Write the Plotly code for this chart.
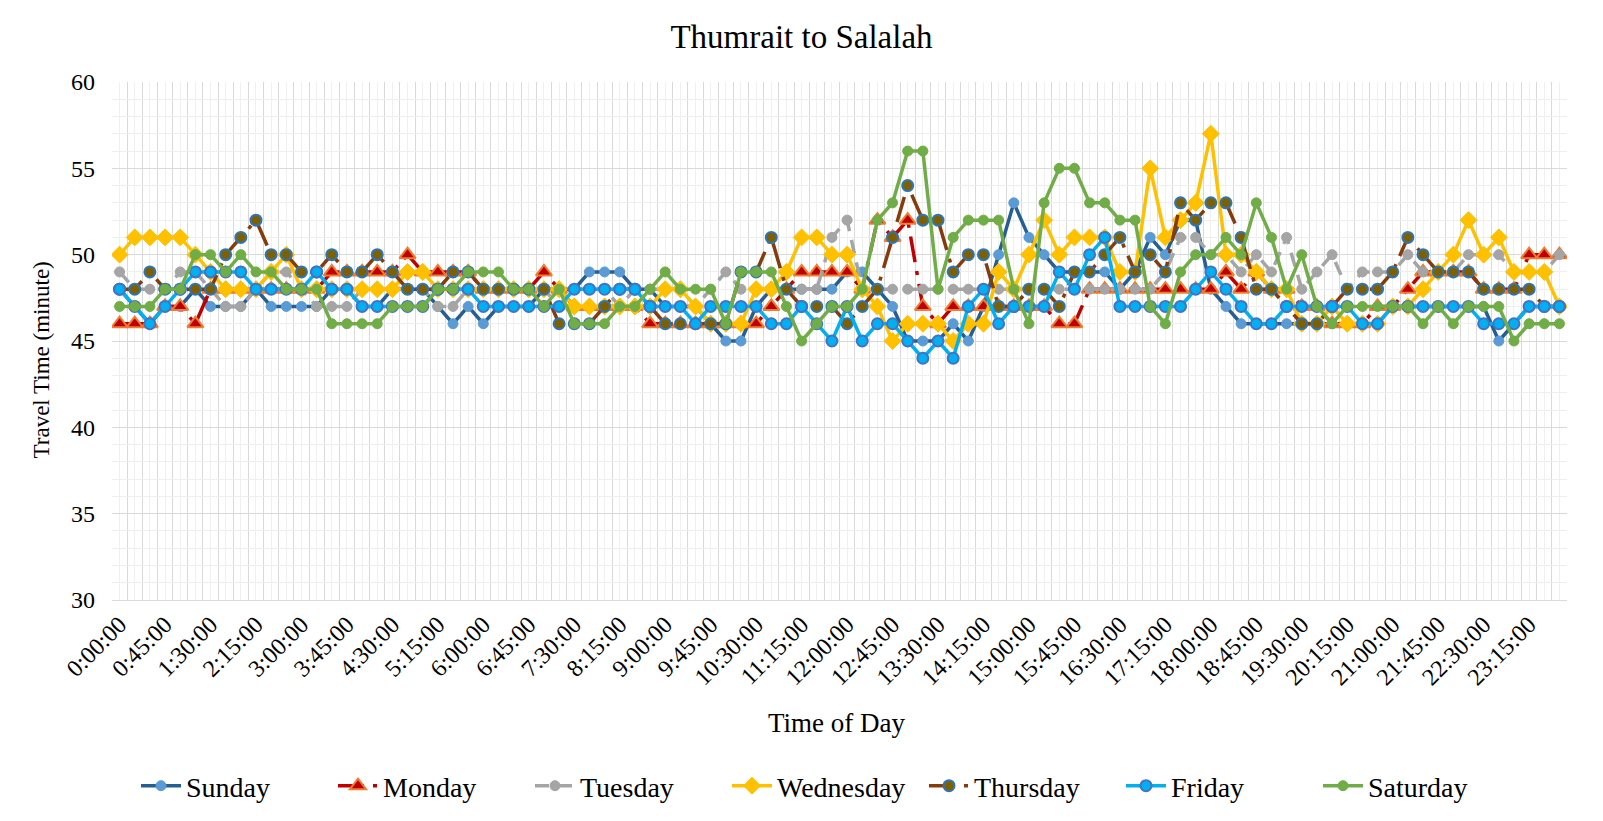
import plotly.graph_objects as go

times = [f"{h}:{m:02d}:00" for h in range(24) for m in (0, 15, 30, 45)]

sunday = [48,47,46,47,47,48,47,47,47,48,47,47,
          47,47,48,48,47,47,48,48,48,47,46,47,
          46,47,47,47,48,48,48,49,49,49,48,48,
          47,47,47,46,45,45,47,48,48,48,48,48,
          49,49,48,47,45,45,45,46,45,47,50,53,
          51,50,49,49,49,49,48,49,51,50,52,52,
          48,47,46,46,46,46,46,46,46,46,46,46,
          47,47,47,47,47,47,47,45,46,47,47,47]
monday = [46,46,46,47,47,46,48,48,48,48,48,48,
          48,48,49,49,49,49,49,50,49,49,49,49,
          48,48,48,48,49,48,47,47,47,47,47,46,
          46,46,46,46,46,46,46,47,48,49,49,49,
          49,48,52,51,52,47,46,47,47,47,47,47,
          47,47,46,46,48,48,48,48,48,48,48,48,
          48,49,48,49,48,48,47,47,46,46,46,47,
          47,48,49,49,49,49,48,48,48,50,50,50]
tuesday = [49,48,48,48,49,49,48,47,47,48,49,49,
           48,47,47,47,48,48,48,48,48,47,47,48,
           48,48,48,48,48,47,48,48,48,47,48,48,
           48,48,47,48,49,48,48,48,48,48,48,51,
           52,48,48,48,48,48,48,48,48,48,48,48,
           48,48,48,48,48,48,48,48,48,49,51,51,
           50,50,49,50,49,51,48,49,50,48,49,49,
           49,50,49,49,49,50,50,50,49,49,49,50]
wednesday = [50,51,51,51,51,50,49,48,48,48,49,50,
             48,48,48,48,48,48,48,49,49,48,48,48,
             48,48,48,48,48,48,47,47,47,47,47,47,
             48,48,47,46,46,46,48,48,49,51,51,50,
             50,48,47,45,46,46,46,45,46,46,49,48,
             50,52,50,51,51,51,49,49,55,51,52,53,
             57,50,50,49,48,48,46,46,47,46,46,46,
             47,47,48,49,50,52,50,51,49,49,49,47]
thursday = [48,48,49,48,48,48,48,50,51,52,50,50,
            49,49,50,49,49,50,49,48,48,48,49,49,
            48,48,48,48,48,46,46,46,47,48,48,47,
            46,46,46,46,46,49,49,51,48,47,47,47,
            46,47,48,51,54,52,52,49,50,50,47,47,
            48,48,47,49,49,50,51,49,50,49,53,52,
            53,53,51,48,48,47,46,46,47,48,48,48,
            49,51,50,49,49,49,48,48,48,48,47,47]
friday = [48,47,46,47,48,49,49,49,49,48,48,48,
          48,49,48,48,47,47,47,47,47,48,48,48,
          47,47,47,47,47,47,48,48,48,48,48,47,
          47,47,46,47,47,47,47,46,46,47,46,45,
          47,45,46,46,45,44,45,44,47,48,46,47,
          47,47,49,48,50,51,47,47,47,47,47,48,
          49,48,47,46,46,47,47,47,47,47,46,46,
          47,47,47,47,47,47,46,46,46,47,47,47]
saturday = [47,47,47,48,48,50,50,49,50,49,49,48,
            48,48,46,46,46,46,47,47,47,48,48,49,
            49,49,48,48,47,48,46,46,46,47,47,48,
            49,48,48,48,46,49,49,49,47,45,46,47,
            47,48,52,53,56,56,48,51,52,52,52,48,
            46,53,55,55,53,53,52,52,47,46,49,50,
            50,51,50,53,51,48,50,47,46,47,47,47,
            47,47,46,47,46,47,47,47,45,46,46,46]

series = [
    ("Sunday", sunday, dict(color="#255E91", width=3.5), dict(symbol="circle", size=10, color="#5B9BD5", line=dict(color="#5B9BD5", width=1))),
    ("Monday", monday, dict(color="#C00000", width=3.5, dash="26px,9px,4px,9px"), dict(symbol="triangle-up", size=14, color="#C00000", line=dict(color="#ED7D31", width=2))),
    ("Tuesday", tuesday, dict(color="#A5A5A5", width=3.5, dash="14px,9px"), dict(symbol="circle", size=10, color="#A5A5A5", line=dict(color="#A5A5A5", width=1))),
    ("Wednesday", wednesday, dict(color="#FFC000", width=3.5), dict(symbol="diamond", size=13, color="#FFC000", line=dict(color="#FFC000", width=1))),
    ("Thursday", thursday, dict(color="#843C0C", width=3.5, dash="26px,9px,4px,9px"), dict(symbol="circle", size=11, color="#7F6000", line=dict(color="#2E75B6", width=2))),
    ("Friday", friday, dict(color="#00B0F0", width=3.5), dict(symbol="circle", size=11, color="#00B0F0", line=dict(color="#4472C4", width=2))),
    ("Saturday", saturday, dict(color="#70AD47", width=3.5), dict(symbol="circle", size=10, color="#70AD47", line=dict(color="#70AD47", width=1))),
]

FONT = "Liberation Serif"
xs = list(range(len(times)))

fig = go.Figure()
for name, vals, line, marker in series:
    fig.add_trace(go.Scatter(x=xs, y=vals, mode="lines+markers", name=name,
                             line=line, marker=marker))

ticktext = [t if i % 3 == 0 else "" for i, t in enumerate(times)]

fig.update_layout(
    width=1603, height=821,
    paper_bgcolor="white", plot_bgcolor="white",
    margin=dict(l=112, r=36, t=82, b=220),
    font=dict(family=FONT, color="black", size=23),
    title=dict(text="Thumrait to Salalah", x=0.5, xanchor="center", y=1 - 36/821, yanchor="middle",
               font=dict(size=33, family=FONT, color="black")),
    showlegend=True,
    legend=dict(orientation="h", x=(136 - 112) / 1455, xanchor="left", y=-(786 - 601) / 519, yanchor="middle",
                font=dict(size=28, family=FONT, color="black"), entrywidth=142, entrywidthmode="pixels",
                itemwidth=40),
    xaxis=dict(range=[-0.5, len(times) - 0.5], tickmode="array", tickvals=xs, ticktext=ticktext,
               tickangle=-45, showgrid=True, gridcolor="#F0F0F0", gridwidth=1, zeroline=False,
               ticks="", tickfont=dict(size=24, family=FONT, color="black"), automargin=False,
               minor=dict(tickmode="linear", tick0=-0.5, dtick=1, showgrid=True, gridcolor="#D9D9D9", gridwidth=1),
               showline=True, linecolor="#D9D9D9", linewidth=1),
    yaxis=dict(range=[30, 60], tickmode="linear", tick0=30, dtick=5, showgrid=True, gridcolor="#D9D9D9",
               gridwidth=1, zeroline=False, ticks="", tickfont=dict(size=24, family=FONT, color="black"),
               ticklabelstandoff=16, automargin=False,
               minor=dict(tickmode="linear", tick0=30, dtick=1, showgrid=True, gridcolor="#EEEEEE", gridwidth=1),
               showline=False),
    annotations=[
        dict(text="Travel Time (minute)", xref="paper", yref="paper", x=-(112 - 41) / 1455, y=(601 - 361) / 519,
             textangle=-90, showarrow=False, font=dict(size=23, family=FONT, color="black"),
             xanchor="center", yanchor="middle"),
        dict(text="Time of Day", xref="paper", yref="paper", x=(837 - 112) / 1455, y=-(724 - 601) / 519,
             showarrow=False, font=dict(size=27, family=FONT, color="black"), xanchor="center", yanchor="middle"),
    ],
)

fig.write_html("out.html")
